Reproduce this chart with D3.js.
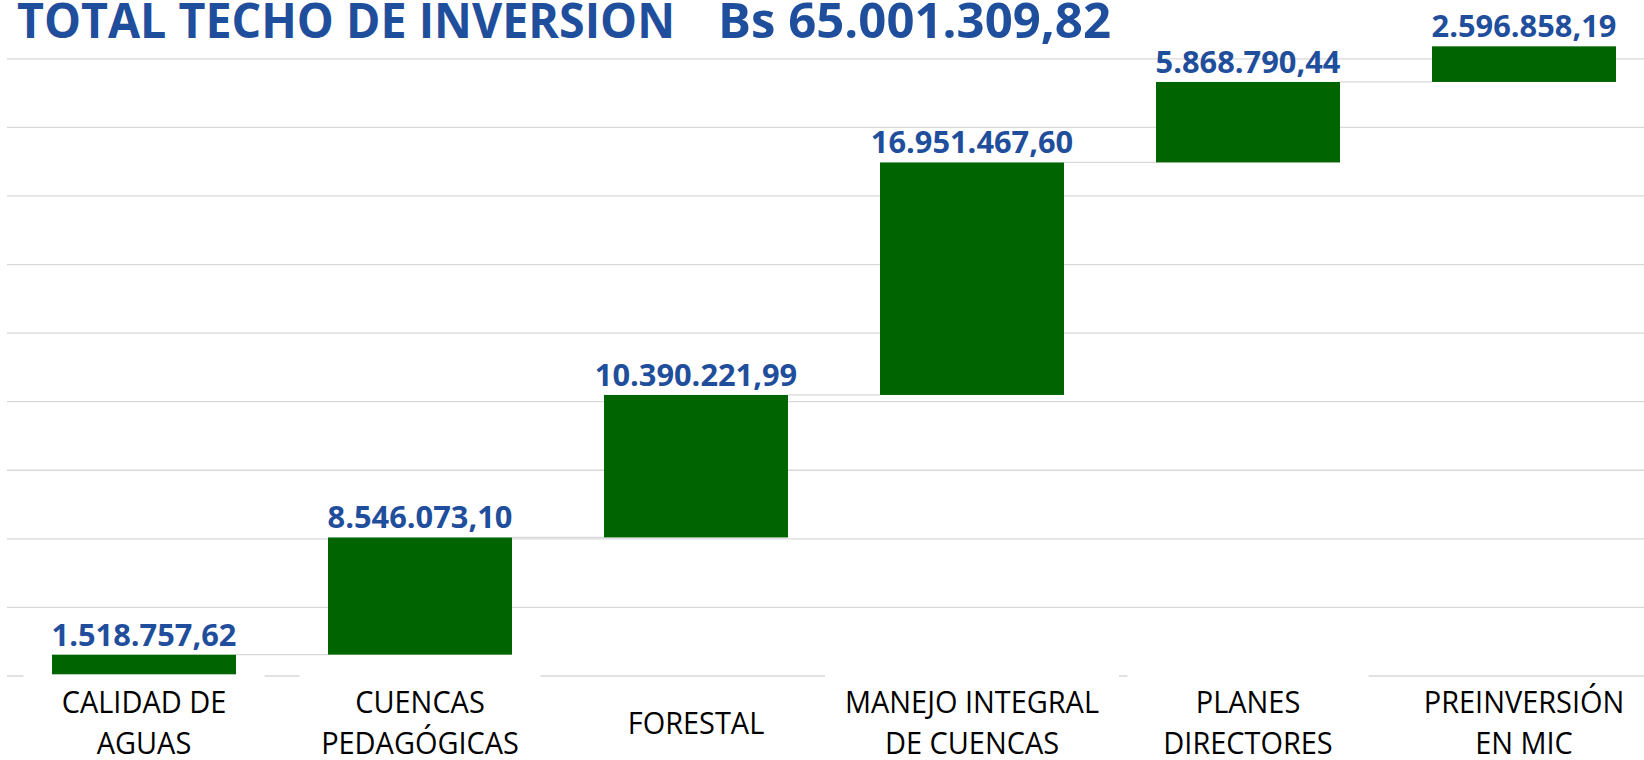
<!DOCTYPE html>
<html>
<head>
<meta charset="utf-8">
<script src="https://cdn.jsdelivr.net/npm/d3@7"></script>
<style>
html,body{margin:0;padding:0;background:#fff;overflow:hidden}
text{font-family:"Open Sans","Noto Sans",sans-serif}
</style>
</head>
<body>
<svg id="c" width="1644" height="760"></svg>
<script>
// ---- data ----
const categories = ["CALIDAD DE\nAGUAS", "CUENCAS\nPEDAGÓGICAS", "FORESTAL", "MANEJO INTEGRAL\nDE CUENCAS", "PLANES\nDIRECTORES", "PREINVERSIÓN\nEN MIC"];
const values = [1518757.62, 8546073.10, 10390221.99, 16951467.60, 5868790.44, 2596858.19];
const titleText = "TOTAL TECHO DE INVERSIÓN";
const totalText = "Bs 65.001.309,82";
const axisMax = 50000000;
const tickStep = 5000000;

// ---- setup ----
const W = 1644, H = 760;
const svg = d3.select("#c");
const locale = d3.formatLocale({decimal: ",", thousands: ".", grouping: [3], currency: ["", ""]});
const fmt = locale.format(",.2f");

const x = d3.scaleBand().domain(categories).range([6, 1662]).paddingInner(1/3).paddingOuter(1/6);
const y = d3.scaleLinear().domain([0, axisMax]).range([675.5, 675.5 - 617.2 * axisMax / 45000000]);

let acc = 0;
const steps = categories.map((c, i) => { const s = acc; acc += values[i]; return {cat: c, start: s, end: acc, v: values[i], i}; });

const GRID = "#D9D9D9";
const GREEN = "#006400";
const BLUE = "#1F4E9C";

// gridlines
const grid = svg.append("g").attr("transform", "translate(7,0)")
  .call(d3.axisLeft(y).tickValues(d3.range(0, axisMax + 1, tickStep)).tickSize(-1655).tickFormat(""));
grid.select(".domain").remove();
grid.selectAll(".tick line").attr("stroke", GRID).attr("stroke-width", 1.3);

// connectors
svg.append("g").selectAll("line").data(steps.slice(0, -1)).join("line")
  .attr("x1", d => x(d.cat) + x.bandwidth())
  .attr("x2", d => x(categories[d.i + 1]))
  .attr("y1", d => y(d.end)).attr("y2", d => y(d.end))
  .attr("stroke", GRID).attr("stroke-width", 1.3);

// bars
svg.append("g").selectAll("rect").data(steps).join("rect")
  .attr("x", d => x(d.cat))
  .attr("width", x.bandwidth())
  .attr("y", d => y(d.end))
  .attr("height", d => y(d.start) - y(d.end))
  .attr("fill", GREEN);

// category labels
const catG = svg.append("g");
steps.forEach(d => {
  const lines = d.cat.split("\n");
  const cx = x(d.cat) + x.bandwidth() / 2;
  const g = catG.append("g").attr("transform", `translate(${cx},0)`);
  const inner = g.append("g").attr("transform", "scale(0.945,1)");
  const base = lines.length === 1 ? 734.5 : 713;
  lines.forEach((ln, k) => {
    inner.append("text").attr("x", 0).attr("y", base + k * 41)
      .attr("text-anchor", "middle").attr("font-size", 30.6).attr("fill", "#000").text(ln);
  });
  if (lines.length > 1) {
    const bb = inner.node().getBBox();
    const bw = Math.max(bb.width * 0.945 + 40, 241);
    if (cx + bw / 2 < W) {
      g.insert("rect", ":first-child").attr("x", -bw / 2).attr("y", 674.3).attr("width", bw).attr("height", H - 674.3).attr("fill", "#fff");
    }
  }
});

// value labels
const valG = svg.append("g");
steps.forEach(d => {
  const cx = x(d.cat) + x.bandwidth() / 2;
  valG.append("text").attr("x", cx).attr("y", y(d.end) - 9)
    .attr("text-anchor", "middle").attr("font-size", 30.8)
    .attr("font-weight", 700).attr("fill", BLUE).text(fmt(d.v));
});

// title
svg.append("text").attr("x", 17).attr("y", 37.7).attr("font-size", 49).attr("font-weight", 700)
  .attr("fill", BLUE).attr("textLength", 658).attr("lengthAdjust", "spacingAndGlyphs").text(titleText);
svg.append("text").attr("x", 718).attr("y", 37.7).attr("font-size", 49).attr("font-weight", 700)
  .attr("fill", BLUE).attr("textLength", 393).attr("lengthAdjust", "spacingAndGlyphs").text(totalText);
</script>
</body>
</html>
